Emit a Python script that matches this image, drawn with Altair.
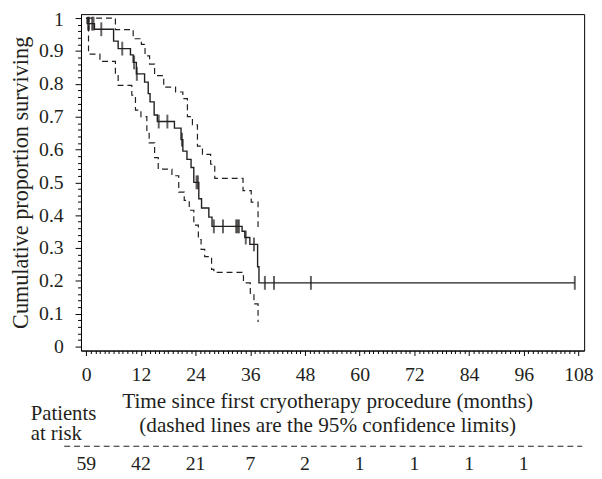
import altair as alt
import pandas as pd

FONT = "'Liberation Serif', 'DejaVu Serif', 'Times New Roman', serif"
INK = "#231f20"

# Kaplan-Meier estimate (months, cumulative proportion surviving)
km_t = [0, 0.2, 1.8, 6.0, 7.0, 9.7, 10.3, 11.0, 12.8, 13.6, 14.0, 14.9, 15.6,
        19.35, 20.8, 21.2, 22.1, 23.0, 23.6, 24.7, 25.3, 26.9, 27.6, 34.2, 34.8,
        35.9, 37.6, 37.9, 107.2]
km_s = [1.0, 0.983, 0.966, 0.93, 0.907, 0.888, 0.865, 0.83, 0.805, 0.77, 0.745,
        0.705, 0.685, 0.665, 0.63, 0.595, 0.57, 0.545, 0.5, 0.45, 0.422, 0.394,
        0.366, 0.351, 0.332, 0.311, 0.243, 0.194, 0.194]

# upper 95% confidence limit
ucl_t = [0, 6.4, 10.3, 12.1, 12.9, 13.9, 15.0, 17.0, 19.6, 21.2, 22.2, 23.3,
         24.4, 25.5, 27.3, 28.2, 34.4, 36.2, 37.7]
ucl_s = [1.0, 0.965, 0.937, 0.92, 0.885, 0.86, 0.825, 0.79, 0.775, 0.755, 0.7,
         0.675, 0.61, 0.585, 0.555, 0.512, 0.475, 0.44, 0.355]

# lower 95% confidence limit
lcl_t = [0, 0.5, 3.0, 6.4, 7.0, 10.0, 10.8, 12.0, 13.3, 13.8, 15.0, 15.8, 18.8,
         20.3, 21.5, 22.6, 23.6, 24.6, 25.2, 26.0, 27.5, 28.0, 34.2, 34.5, 36.0,
         36.8, 37.7]
lcl_s = [1.0, 0.89, 0.868, 0.83, 0.795, 0.765, 0.72, 0.7, 0.655, 0.62, 0.575,
         0.54, 0.52, 0.47, 0.445, 0.415, 0.37, 0.326, 0.296, 0.274, 0.235, 0.226,
         0.215, 0.194, 0.16, 0.13, 0.075]

# censored observations (months)
censor_t = [0.4, 0.6, 1.3, 1.6, 3.3, 7.9, 10.5, 11.1, 15.9, 17.8, 21.0, 24.2,
            24.5, 28.0, 30.0, 32.9, 33.2, 33.5, 35.0, 36.8, 39.2, 41.2, 49.3, 107.2]

# patients at risk
risk_t = [0, 12, 24, 36, 48, 60, 72, 84, 96]
risk_n = [59, 42, 21, 7, 2, 1, 1, 1, 1]

x_values = list(range(0, 109))
y_values = [round(i * 0.02, 2) for i in range(51)]

x_title1 = "Time since first cryotherapy procedure (months)"
x_title2 = "(dashed lines are the 95% confidence limits)"
risk_label1 = "Patients"
risk_label2 = "at risk"
y_title = "Cumulative proportion surviving"


def surv_at(ts, ss, t):
    val = ss[0]
    for ti, si in zip(ts, ss):
        if ti <= t:
            val = si
    return val


df_km = pd.DataFrame({"t": km_t, "s": km_s})
df_ci = pd.concat([
    pd.DataFrame({"t": ucl_t, "s": ucl_s, "bound": "upper"}),
    pd.DataFrame({"t": lcl_t, "s": lcl_s, "bound": "lower"}),
])
df_cens = pd.DataFrame({"t": censor_t, "s": [surv_at(km_t, km_s, t) for t in censor_t]})
df_risk = pd.DataFrame({"t": risk_t, "n": risk_n})

x_scale = alt.Scale(domain=[-1.15, 109.25], nice=False, zero=False)
y_scale = alt.Scale(domain=[-0.012, 1.012], nice=False, zero=False)

x_major_test = "datum.value % 12 === 0"
y_major_test = "abs(datum.value*10 - round(datum.value*10)) < 0.001"

x_axis = alt.Axis(
    values=x_values,
    labelExpr=f"{x_major_test} ? datum.label : ''",
    tickSize={"condition": {"test": x_major_test, "value": 5}, "value": 3},
    labelFont=FONT, labelFontSize=20, labelPadding=9, labelOverlap=False,
    labelFlush=False, title=None, grid=False,
)
y_axis = alt.Axis(
    values=y_values,
    labelExpr=(f"{y_major_test} ? (datum.value == 0 ? '0' : (datum.value == 1 ? '1' : "
               "format(datum.value, '.1f'))) : ''"),
    tickSize={"condition": {"test": y_major_test, "value": 6}, "value": 3.5},
    labelOffset={"condition": {"test": "datum.value == 1", "value": 2}, "value": 0},
    labelFont=FONT, labelFontSize=20, labelPadding=12, labelOverlap=False,
    labelFlush=False, grid=False,
    title=y_title, titleFont=FONT, titleFontSize=22.5, titleFontWeight="normal",
    titleColor=INK, titleX=-61, titleBaseline="middle",
)

X = alt.X("t:Q", scale=x_scale, axis=x_axis)
Y = alt.Y("s:Q", scale=y_scale, axis=y_axis)

km_line = alt.Chart(df_km).mark_line(
    interpolate="step-after", color=INK, strokeWidth=1.4
).encode(x=X, y=Y)

ci_lines = alt.Chart(df_ci).mark_line(
    interpolate="step-after", color=INK, strokeWidth=1.2, strokeDash=[6, 4]
).encode(x=X, y=Y, detail="bound:N")

censors = alt.Chart(df_cens).mark_tick(
    orient="vertical", color=INK, size=14, thickness=2
).encode(x=X, y=Y)

risk_numbers = alt.Chart(df_risk).mark_text(
    font=FONT, fontSize=20, color=INK, align="center", baseline="alphabetic"
).encode(x=X, y=alt.value(462), text="n:Q")


def label(txt, x, y, align, size=21.5):
    return alt.Chart(pd.DataFrame({"txt": [txt]})).mark_text(
        font=FONT, fontSize=size, color=INK, align=align, baseline="alphabetic"
    ).encode(x=alt.value(x), y=alt.value(y), text="txt:N")


title1 = label(x_title1, 250, 399, "center")
title2 = label(x_title2, 250, 424, "center")
risk1 = label(risk_label1, -51, 411, "left", 21)
risk2 = label(risk_label2, -51, 432, "left", 21)

sep_rule = alt.Chart(pd.DataFrame({"a": [0]})).mark_rule(
    color=INK, strokeWidth=1.2, strokeDash=[6, 4]
).encode(x=alt.value(-17), x2=alt.value(508), y=alt.value(438))

chart = alt.layer(
    ci_lines, km_line, censors, risk_numbers, title1, title2, risk1, risk2, sep_rule
).properties(
    width=510, height=341,
    padding={"left": 74, "top": 3, "right": 10, "bottom": 127},
    autosize=alt.AutoSizeParams(type="none"),
    background="white",
).configure_view(
    stroke="black", strokeWidth=1
).configure_axis(
    domainColor="black", tickColor="black", labelColor=INK, domainWidth=1, tickWidth=1
)

chart.save("out.html", embed_options={"renderer": "svg", "actions": False})
